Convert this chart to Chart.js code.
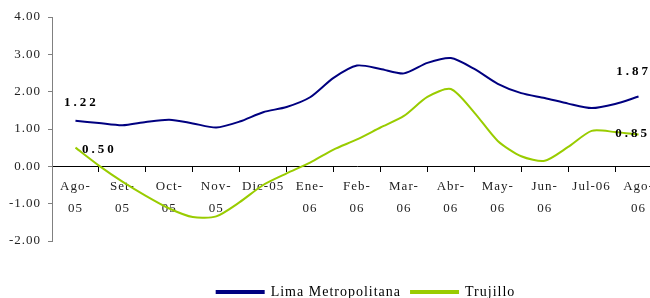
<!DOCTYPE html>
<html>
<head>
<meta charset="utf-8">
<script src="https://cdn.jsdelivr.net/npm/chart.js@4.4.1/dist/chart.umd.min.js"></script>
<style>
  html, body { margin: 0; padding: 0; background: #fff; overflow: hidden; }
  #wrap { width: 662px; height: 309px; position: relative; }
</style>
</head>
<body>
<div id="wrap"><canvas id="chart"></canvas></div>
<script>
// month labels on the category axis
const months = [['Ago-', '05'], ['Set-', '05'], ['Oct-', '05'], ['Nov-', '05'], 'Dic-05', ['Ene-', '06'],
  ['Feb-', '06'], ['Mar-', '06'], ['Abr-', '06'], ['May-', '06'], ['Jun-', '06'], 'Jul-06', ['Ago-', '06']];

// readings every half month (0 = Ago-05, 12 = Ago-06)
const steps = [0, 0.5, 1, 1.5, 2, 2.5, 3, 3.5, 4, 4.5, 5, 5.5, 6, 6.5, 7, 7.5, 8, 8.5, 9, 9.5, 10, 10.5, 11, 11.5, 12];

const lima = [1.22, 1.16, 1.10, 1.19, 1.25, 1.15, 1.04, 1.20, 1.45, 1.59, 1.85, 2.37, 2.70, 2.61, 2.49, 2.77,
  2.90, 2.61, 2.21, 1.96, 1.83, 1.68, 1.56, 1.67, 1.87];
const trujillo = [0.50, 0.02, -0.41, -0.79, -1.13, -1.36, -1.34, -0.96, -0.50, -0.19, 0.10, 0.45, 0.72, 1.04, 1.35,
  1.86, 2.07, 1.44, 0.68, 0.27, 0.15, 0.52, 0.95, 0.92, 0.85];

const yTicks = [-2, -1, 0, 1, 2, 3, 4];

const BLUE = '#000080';
const GREEN = '#99CC00';
const SERIF = "'Liberation Serif', 'Times New Roman', serif";

function pts(vals) {
  return vals.map((v, i) => ({ x: steps[i], y: v }));
}

// the old Excel text is a bit spaced out; canvas resets state on resize so set it each pass
const spacing = {
  id: 'spacing',
  beforeUpdate(chart) { chart.ctx.letterSpacing = '1px'; },
  beforeDraw(chart) { chart.ctx.letterSpacing = '1px'; }
};

// end-point value labels
const endLabels = {
  id: 'endLabels',
  afterDatasetsDraw(chart) {
    const ctx = chart.ctx;
    const place = [
      { ds: 0, i: 0, dx: 6, dy: -18 },
      { ds: 0, i: lima.length - 1, dx: -5, dy: -25 },
      { ds: 1, i: 0, dx: 24, dy: 2 },
      { ds: 1, i: trujillo.length - 1, dx: -6, dy: -1 }
    ];
    ctx.save();
    ctx.font = 'bold 13px ' + SERIF;
    ctx.fillStyle = '#000';
    ctx.textAlign = 'center';
    ctx.textBaseline = 'middle';
    ctx.letterSpacing = '3px';
    place.forEach(p => {
      const el = chart.getDatasetMeta(p.ds).data[p.i];
      const v = chart.data.datasets[p.ds].data[p.i].y;
      ctx.fillText(v.toFixed(2), el.x + p.dx, el.y + p.dy);
    });
    ctx.restore();
  }
};

// Excel legend is not centred on the visible part, nudge it right
const legendShift = {
  id: 'legendShift',
  afterLayout(chart) {
    chart.legend.left += 35;
    chart.legend.right += 35;
  }
};

new Chart(document.getElementById('chart'), {
  type: 'line',
  data: {
    labels: months,
    datasets: [
      { label: 'Lima Metropolitana', data: pts(lima), xAxisID: 'xl', borderColor: BLUE, backgroundColor: BLUE,
        borderWidth: 2, pointRadius: 0, tension: 0.25 },
      { label: 'Trujillo', data: pts(trujillo), xAxisID: 'xl', borderColor: GREEN, backgroundColor: GREEN,
        borderWidth: 2, pointRadius: 0, tension: 0.25 }
    ]
  },
  options: {
    responsive: true,
    maintainAspectRatio: false,
    animation: false,
    layout: { padding: { top: 17, left: 0, right: 0, bottom: 0 } },
    plugins: {
      legend: {
        position: 'bottom',
        labels: { boxWidth: 47, boxHeight: 2, padding: 10, color: '#000', font: { family: SERIF, size: 14 } }
      },
      tooltip: { enabled: false }
    },
    scales: {
      x: {
        type: 'category',
        position: { y: 0 },
        offset: true,
        grid: { display: true, drawOnChartArea: false, drawTicks: true, tickLength: 5, color: '#000', offset: true },
        border: { display: true, color: '#000', width: 1 },
        ticks: { color: '#222', padding: 4, maxRotation: 0, autoSkip: false,
          font: { family: SERIF, size: 13, lineHeight: 1.7 } }
      },
      xl: {
        type: 'linear',
        position: 'bottom',
        min: -0.5,
        max: 12.5,
        grid: { display: false },
        border: { display: false },
        ticks: { display: false },
        afterFit(scale) { scale.height = 34; }
      },
      y: {
        min: -2,
        max: 4,
        afterBuildTicks(scale) { scale.ticks = yTicks.map(v => ({ value: v })); },
        afterFit(scale) { scale.width = 52; },
        grid: { display: true, drawOnChartArea: false, drawTicks: true, tickLength: 4, color: '#808080' },
        border: { display: true, color: '#808080', width: 1 },
        ticks: { color: '#222', padding: 7, font: { family: SERIF, size: 13 },
          callback: v => v.toFixed(2) }
      }
    }
  },
  plugins: [spacing, endLabels, legendShift]
});
</script>
</body>
</html>
